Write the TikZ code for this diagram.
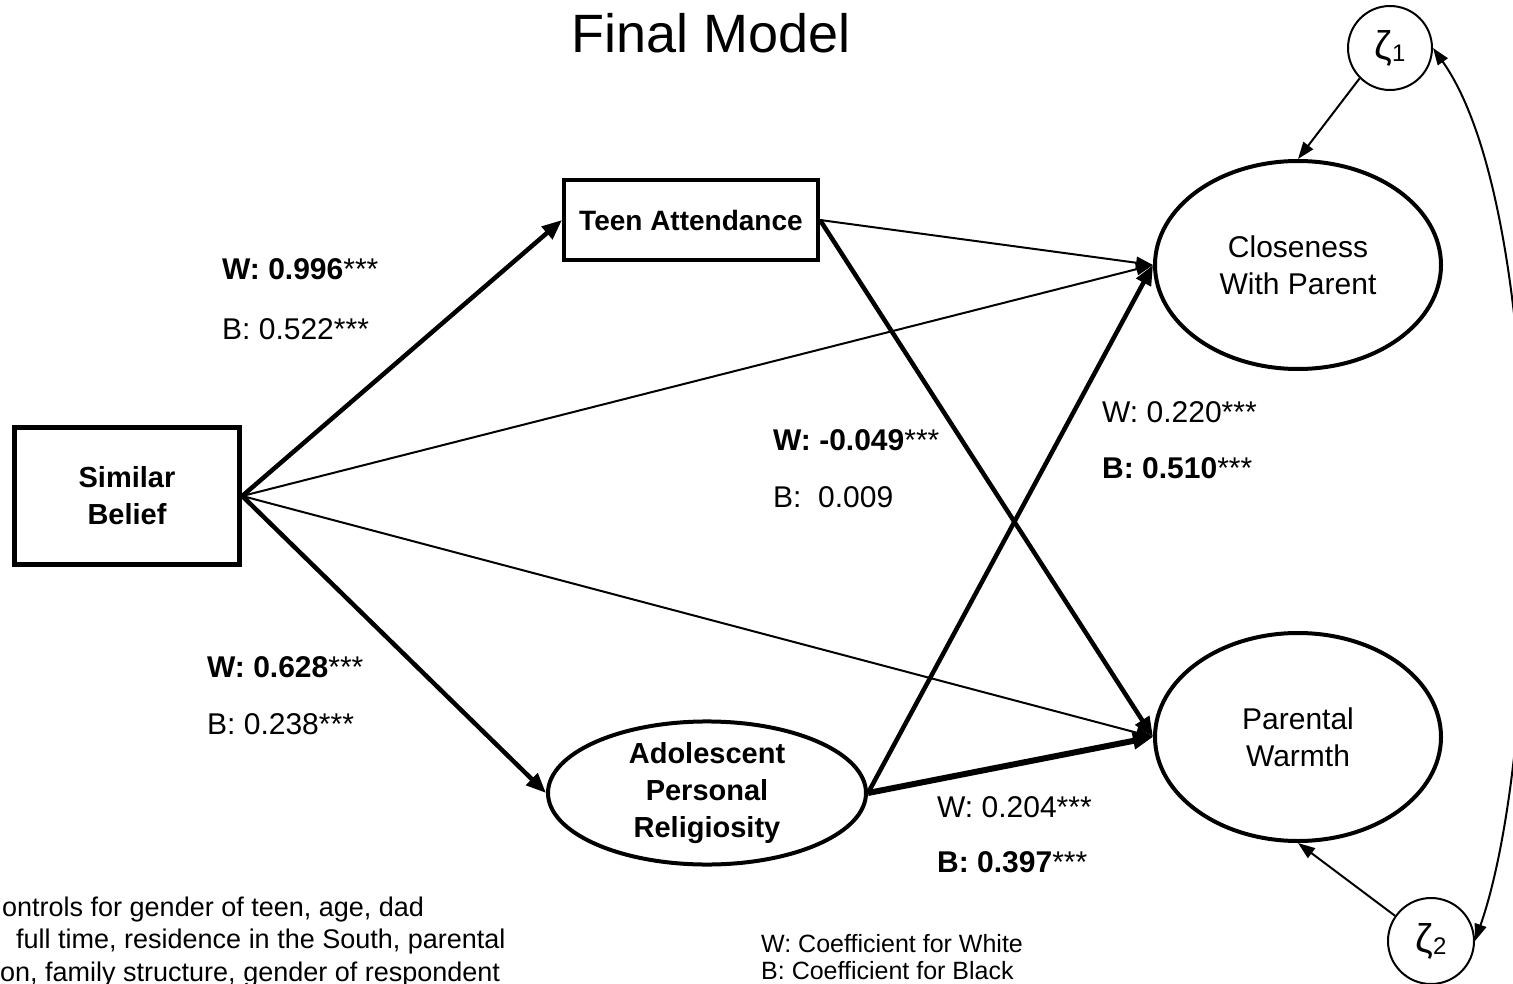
\documentclass[tikz,border=0pt]{standalone}
\usepackage{fontspec}
\setmainfont{Liberation Sans}
\usetikzlibrary{arrows.meta,shapes.geometric}
\begin{document}
\begin{tikzpicture}[x=1pt,y=-1pt,
  thinarr/.style={line width=2pt,-{Triangle[length=17pt,width=12pt]}},
  thickarr/.style={line width=4.5pt,-{Triangle[length=20pt,width=16pt]}},
  boldarr/.style={line width=6pt,-{Triangle[length=20pt,width=16pt]}},
  lab/.style={anchor=base west,inner sep=0pt,font=\fontsize{30}{34}\selectfont},
  nodetext/.style={align=center,font=\fontsize{30}{37}\selectfont},
  ell/.style={ellipse,draw,line width=4pt,inner sep=0pt,nodetext},
  zeta/.style={circle,draw,line width=2pt,inner sep=0pt},
  note/.style={anchor=base west,inner sep=0pt,font=\fontsize{27}{32}\selectfont},
  legend/.style={anchor=base west,inner sep=0pt,font=\fontsize{25}{28}\selectfont}
]
\useasboundingbox (0,0) rectangle (1513,984);
\clip (0,0) rectangle (1513,984);
\fill[white] (0,0) rectangle (1513,984);

% title
\node[anchor=base,inner sep=0pt,font=\fontsize{54}{60}\selectfont] (title) at (711,53) {Final Model};

% nodes
\node[draw,line width=5.5pt,minimum width=225pt,minimum height=137pt,nodetext,font=\bfseries\fontsize{29}{37}\selectfont] (sb) at (127,496) {Similar\\Belief};
\node[draw,line width=4pt,minimum width=254pt,minimum height=80pt,nodetext,font=\bfseries\fontsize{28}{34}\selectfont] (ta) at (691,220) {Teen Attendance};
\node[ell,minimum width=318pt,minimum height=140pt,font=\bfseries\fontsize{29}{37}\selectfont] (ar) at (707,793) {Adolescent\\Personal\\Religiosity};
\node[ell,minimum width=286pt,minimum height=208pt] (cl) at (1298,265) {Closeness\\With Parent};
\node[ell,minimum width=286pt,minimum height=208pt] (pw) at (1298,737) {Parental\\Warmth};
\node[zeta,minimum size=84pt] (z1) at (1390,48) {{\fontsize{40}{42}\selectfont ζ}\raisebox{-0.5ex}{\fontsize{24}{26}\selectfont 1}};
\node[zeta,minimum size=86pt] (z2) at (1431,941) {{\fontsize{40}{42}\selectfont ζ}\raisebox{-0.5ex}{\fontsize{24}{26}\selectfont 2}};

% connectors
\draw[thickarr] (sb.east) -- (ta.west);
\draw[thickarr] (sb.east) -- (ar.west);
\draw[thinarr] (sb.east) -- (cl.west);
\draw[thinarr] (sb.east) -- (pw.west);
\draw[thinarr] (ta.east) -- (cl.west);
\draw[thickarr] (ta.east) -- (pw.west);
\draw[thickarr] (ar.east) -- (cl.west);
\draw[boldarr] (ar.east) -- (pw.west);
\draw[thinarr] (z1.225) -- (cl.north);
\draw[thinarr] (z2.145) -- (pw.south);
\draw[line width=2pt,{Triangle[length=17pt,width=12pt]}-{Triangle[length=17pt,width=12pt]}]
  (z1.east) .. controls (1548,210) and (1545,740) .. (z2.east);

% labels
\node[lab] (l1) at (222,280) {\textbf{W: 0.996}***};
\node[lab] (l2) at (222,340) {B: 0.522***};
\node[lab] (l3) at (207,677) {\textbf{W: 0.628}***};
\node[lab] (l4) at (207,734) {B: 0.238***};
\node[lab] (l5) at (773,450) {\textbf{W: -0.049}***};
\node[lab] (l6) at (773,507) {B:\ \ 0.009};
\node[lab] (l7) at (1102,422) {W: 0.220***};
\node[lab] (l8) at (1102,478) {\textbf{B: 0.510}***};
\node[lab] (l9) at (937,817) {W: 0.204***};
\node[lab] (l10) at (937,872) {\textbf{B: 0.397}***};

% legend
\node[legend] (lg1) at (761,952) {W: Coefficient for White};
\node[legend] (lg2) at (761,979) {B: Coefficient for Black};

% note (cut by the page edge, as in the reference)
\node[note] (n1) at (2,916) {ontrols for gender of teen, age, dad};
\node[note] (n2) at (16,948) {full time, residence in the South, parental};
\node[note] (n3) at (0,981) {on, family structure, gender of respondent};
\end{tikzpicture}
\end{document}
